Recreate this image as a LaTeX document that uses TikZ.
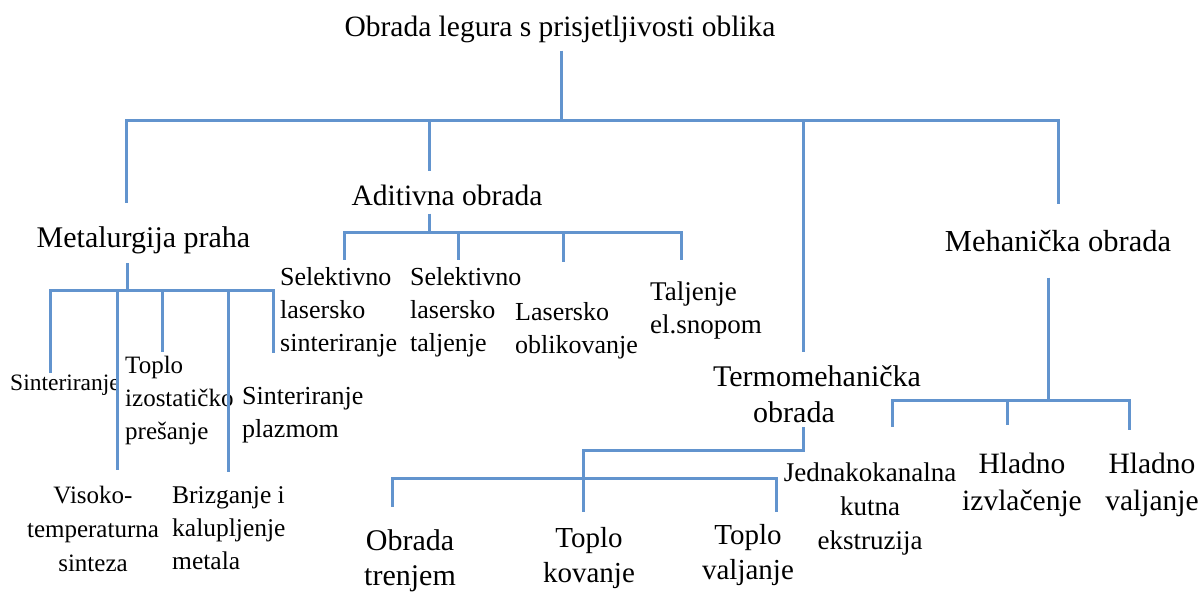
\documentclass[tikz,border=0pt]{standalone}
\usepackage{fontspec}
\setmainfont{Liberation Serif}
\definecolor{branchblue}{RGB}{98,148,206}
\begin{document}
\begin{tikzpicture}[x=1pt,y=-1pt,
	branch/.style={draw=branchblue,line width=3pt},
	head/.style={inner sep=0pt,align=center,font=\fontsize{30}{35}\selectfont},
	leaf/.style={inner sep=0pt,align=left,anchor=west,font=\fontsize{26}{33}\selectfont}]
	\useasboundingbox[fill=white] (0,0) rectangle (1201,592);
	% glavni cvorovi
	\node[head,font=\fontsize{29.5}{35}\selectfont] (root) at (560,29) {Obrada legura s prisjetljivosti oblika};
	\node[head] (met) at (143.5,240) {Metalurgija praha};
	\node[head,font=\fontsize{29.5}{35}\selectfont] (adi) at (447,195) {Aditivna obrada};
	\node[head,font=\fontsize{30}{36}\selectfont] (termo) at (817,394.6) {Termomehanička\\obrada\hspace*{46pt}};
	\node[head,font=\fontsize{30.5}{35}\selectfont] (meh) at (1058,241) {Mehanička obrada};
	% metalurgija praha
	\node[leaf,anchor=center,font=\fontsize{23.5}{28}\selectfont] (sint) at (65,385.5) {Sinteriranje};
	\node[head,font=\fontsize{25}{34}\selectfont] (viso) at (93,529) {Visoko-\\temperaturna\\sinteza};
	\node[leaf,font=\fontsize{25}{33}\selectfont] (izo) at (125,400.7) {Toplo\\izostatičko\\prešanje};
	\node[leaf,font=\fontsize{25.5}{33}\selectfont] (briz) at (172,528.3) {Brizganje i\\kalupljenje\\metala};
	\node[leaf] (plaz) at (242,415.6) {Sinteriranje\\plazmom};
	% aditivna obrada
	\node[leaf] (sls) at (280,312.1) {Selektivno\\lasersko\\sinteriranje};
	\node[leaf] (slm) at (410,312.1) {Selektivno\\lasersko\\taljenje};
	\node[leaf] (lo) at (515,330.6) {Lasersko\\oblikovanje};
	\node[leaf,font=\fontsize{27}{33}\selectfont] (ebm) at (650,310.2) {Taljenje\\el.snopom};
	% termomehanicka obrada
	\node[head] (tren) at (410,560.4) {Obrada\\trenjem};
	\node[head,font=\fontsize{29}{35}\selectfont] (kov) at (589,558.4) {Toplo\\kovanje};
	\node[head,font=\fontsize{29}{35}\selectfont] (valj) at (748,555.4) {Toplo\\valjanje};
	% mehanicka obrada
	\node[head,font=\fontsize{27}{34}\selectfont] (ecap) at (870,509) {Jednakokanalna\\kutna\\ekstruzija};
	\node[head,font=\fontsize{29.5}{37}\selectfont] (hiz) at (1022,484.5) {Hladno\\izvlačenje};
	\node[head,font=\fontsize{29.5}{37}\selectfont] (hval) at (1152,484.5) {Hladno\\valjanje};
	% cvorista
	\coordinate (r0) at (561,120);
	\coordinate (rm) at (126,120);
	\coordinate (ra) at (429,120);
	\coordinate (rt) at (803,120);
	\coordinate (rh) at (1058,120);
	\coordinate (mj) at (127,290);
	\coordinate (m1) at (50,290);
	\coordinate (m2) at (117,290);
	\coordinate (m3) at (162,290);
	\coordinate (m4) at (228,290);
	\coordinate (m5) at (273,290);
	\coordinate (aj) at (429,232);
	\coordinate (a1) at (344,232);
	\coordinate (a2) at (458,232);
	\coordinate (a3) at (563,232);
	\coordinate (a4) at (681,232);
	\coordinate (tj) at (803,450);
	\coordinate (tk) at (583,450);
	\coordinate (t1) at (392,478);
	\coordinate (t3) at (776,478);
	\coordinate (hj) at (1048,400);
	\coordinate (h1) at (892,400);
	\coordinate (h2) at (1007,400);
	\coordinate (h3) at (1129,400);
	% veze
	\draw[branch,shorten <=8pt] (root.south -| r0) -- (r0);
	\draw[branch,shorten <=23.5pt,shorten >=25.6pt] (rm |- met.north) -- (rm) -- (rh) -- (rh |- meh.north);
	\draw[branch,shorten >=13pt] (ra) -- (ra |- adi.north);
	\draw[branch,shorten >=13.4pt] (rt) -- (rt |- termo.north);
	\draw[branch,shorten <=9.5pt] (met.south -| mj) -- (mj);
	\draw[branch,shorten <=2pt,shorten >=34.4pt] (m1 |- sint.north) -- (m1) -- (m5) -- (m5 |- plaz.north);
	\draw[branch,shorten >=16pt] (m2) -- (m2 |- viso.north);
	\draw[branch,shorten >=4.4pt] (m3) -- (m3 |- izo.north);
	\draw[branch,shorten >=14.6pt] (m4) -- (m4 |- briz.north);
	\draw[branch,shorten <=8pt] (adi.south -| aj) -- (aj);
	\draw[branch,shorten <=7.4pt,shorten >=21.5pt] (a1 |- sls.north) -- (a1) -- (a4) -- (a4 |- ebm.north);
	\draw[branch,shorten >=7.4pt] (a2) -- (a2 |- slm.north);
	\draw[branch,shorten >=40.4pt] (a3) -- (a3 |- lo.north);
	\draw[branch,shorten <=4pt,shorten >=15.4pt] (termo.south -| tj) -- (tj) -- (tk) -- (tk |- kov.north);
	\draw[branch,shorten <=22.4pt,shorten >=12.4pt] (t1 |- tren.north) -- (t1) -- (t3) -- (t3 |- valj.north);
	\draw[branch,shorten <=25.6pt] (meh.south -| hj) -- (hj);
	\draw[branch,shorten <=35.8pt,shorten >=22.7pt] (h1 |- ecap.north) -- (h1) -- (h3) -- (h3 |- hval.north);
	\draw[branch,shorten >=27.7pt] (h2) -- (h2 |- hiz.north);
\end{tikzpicture}
\end{document}
